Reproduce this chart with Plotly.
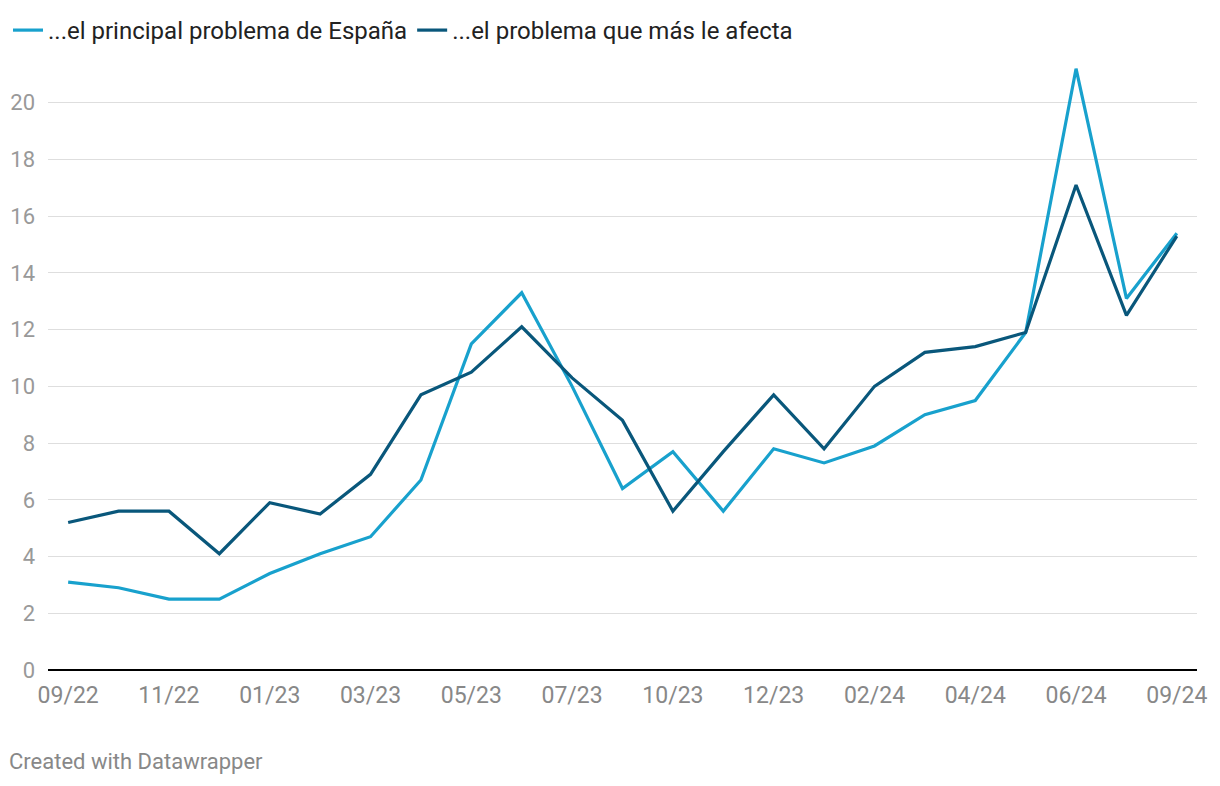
import plotly.graph_objects as go

months = ["09/22", "10/22", "11/22", "12/22", "01/23", "02/23", "03/23", "04/23",
          "05/23", "06/23", "07/23", "09/23", "10/23", "11/23", "12/23", "01/24",
          "02/24", "03/24", "04/24", "05/24", "06/24", "07/24", "09/24"]

espana = [3.1, 2.9, 2.5, 2.5, 3.4, 4.1, 4.7, 6.7, 11.5, 13.3, 10.0, 6.4, 7.7,
          5.6, 7.8, 7.3, 7.9, 9.0, 9.5, 11.9, 21.2, 13.1, 15.4]
afecta = [5.2, 5.6, 5.6, 4.1, 5.9, 5.5, 6.9, 9.7, 10.5, 12.1, 10.3, 8.8, 5.6,
          7.7, 9.7, 7.8, 10.0, 11.2, 11.4, 11.9, 17.1, 12.5, 15.3]

tick_labels = ["09/22", "11/22", "01/23", "03/23", "05/23", "07/23", "10/23",
               "12/23", "02/24", "04/24", "06/24", "09/24"]
y_ticks = [0, 2, 4, 6, 8, 10, 12, 14, 16, 18, 20]

series_names = ["...el principal problema de España", "...el problema que más le afecta"]
colors = ["#18a1cd", "#09577b"]

fig = go.Figure()
for name, vals, col in zip(series_names, [espana, afecta], colors):
    fig.add_trace(go.Scatter(
        x=months, y=vals, mode="lines", name=name,
        line=dict(color=col, width=3.2),
    ))

fig.update_layout(
    width=1212, height=778,
    margin=dict(l=40, r=23, t=38, b=116, autoexpand=False),
    paper_bgcolor="white", plot_bgcolor="white",
    font=dict(family="Roboto", size=22, color="#333333"),
    showlegend=True,
    legend=dict(orientation="h", xref="container", yref="container",
                x=0.0, y=1.0, xanchor="left", yanchor="top",
                font=dict(size=24, color="#222222"),
                itemwidth=30, traceorder="normal", bgcolor="rgba(0,0,0,0)"),
    xaxis=dict(
        type="category", categoryorder="array", categoryarray=months,
        range=[-0.4, 22.4], automargin=False,
        tickmode="array", tickvals=tick_labels, ticktext=tick_labels,
        showgrid=False, showline=False, zeroline=False, ticks="",
        tickfont=dict(size=23, color="#888888"),
        ticklabelstandoff=9,
    ),
    yaxis=dict(
        range=[0, 22], tickvals=y_ticks, automargin=False,
        showgrid=True, gridcolor="#dedede", gridwidth=1,
        zeroline=True, zerolinecolor="#000000", zerolinewidth=2,
        showline=False, ticks="",
        tickfont=dict(size=22, color="#999999"),
        ticklabelstandoff=12,
    ),
    annotations=[dict(
        text="Created with Datawrapper", xref="paper", yref="paper",
        x=-0.0353, y=-0.147, xanchor="left", yanchor="middle",
        showarrow=False, font=dict(size=22, color="#888888"),
    )],
)

fig.write_html("out.html")
